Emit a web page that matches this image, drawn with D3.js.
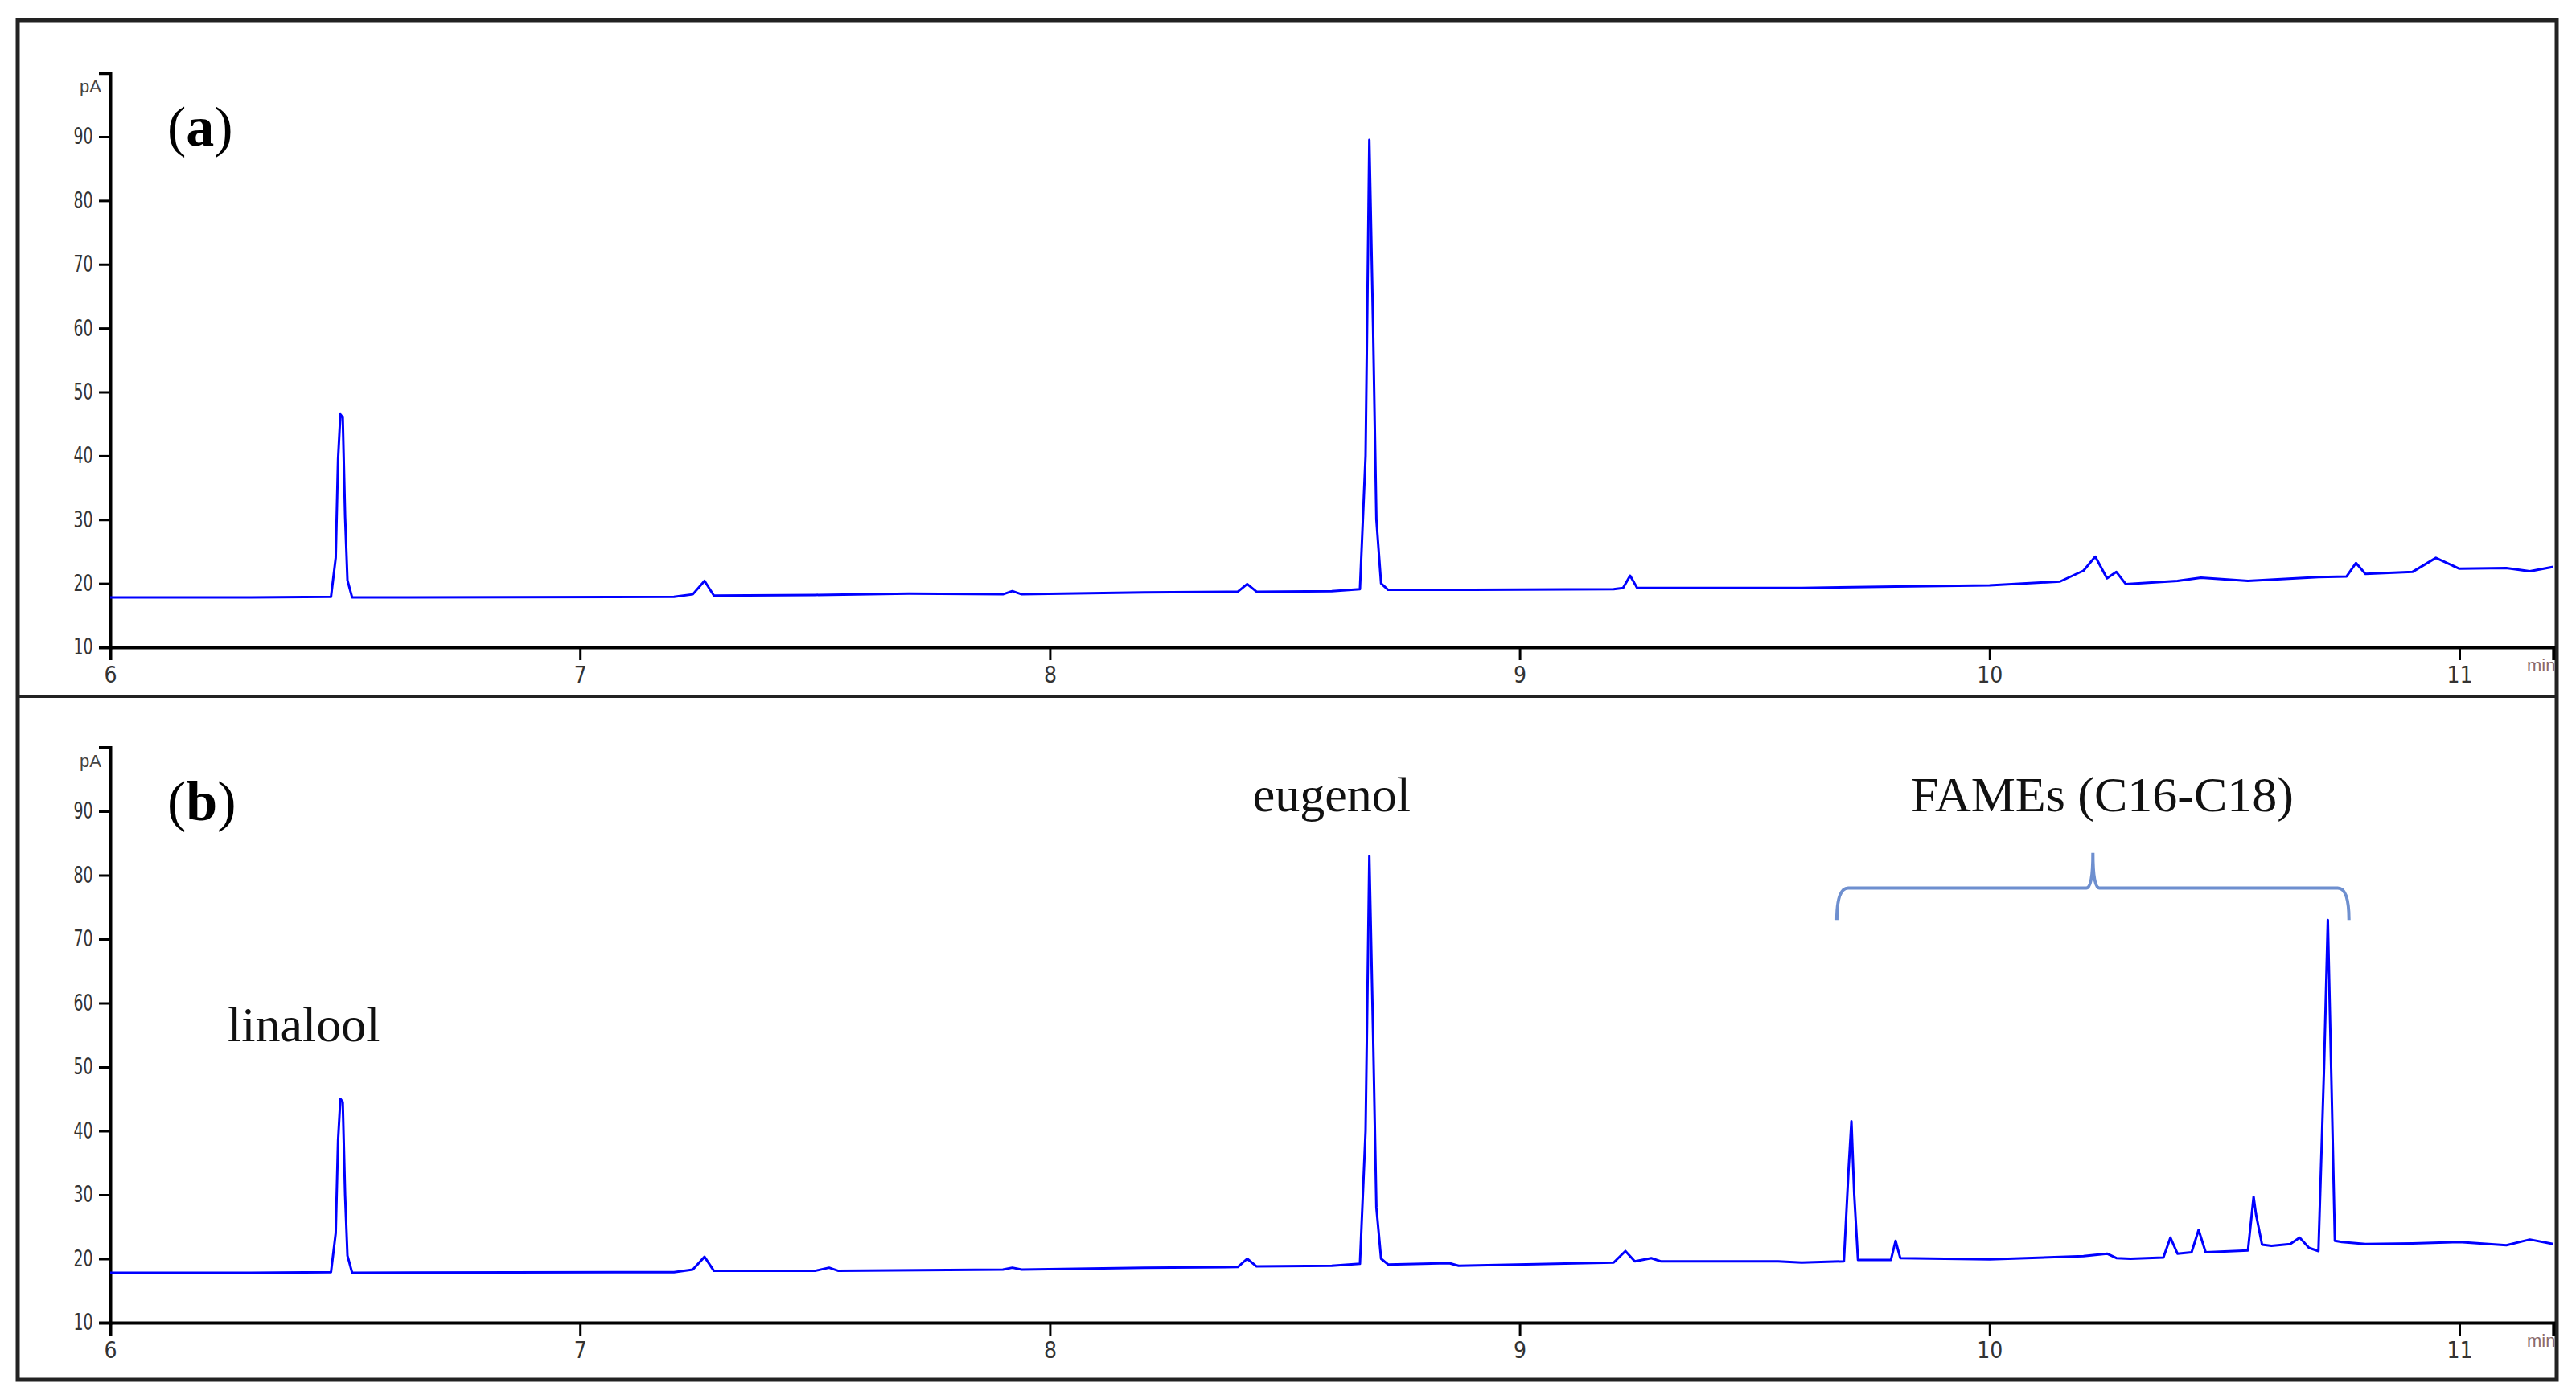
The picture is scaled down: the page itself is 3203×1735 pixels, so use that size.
<!DOCTYPE html>
<html lang="en">
<head>
<meta charset="UTF-8">
<title>GC chromatograms</title>
<script src="https://cdn.jsdelivr.net/npm/d3@7"></script>
<style>
  body { margin: 0; background: #fff; }
  svg { display: block; }
  .tick text { font-family: "Liberation Sans Narrow", "DejaVu Sans Condensed", sans-serif; fill: #333; }
</style>
</head>
<body>
<svg width="3203" height="1735"></svg>
<script>
// trace (a): retention time (min) and signal (pA)
const timeA = [6.0, 6.3, 6.47, 6.48, 6.485, 6.49, 6.495, 6.5, 6.505, 6.515, 7.2, 7.24, 7.265, 7.285, 7.5, 7.7, 7.9, 7.92, 7.94, 8.2, 8.4, 8.42, 8.44, 8.6, 8.66, 8.672, 8.68, 8.688, 8.695, 8.705, 8.72, 8.9, 9.2, 9.22, 9.235, 9.25, 9.6, 9.8, 10.0, 10.15, 10.2, 10.225, 10.25, 10.27, 10.29, 10.4, 10.45, 10.55, 10.7, 10.76, 10.78, 10.8, 10.9, 10.95, 11.0, 11.1, 11.15, 11.2];
const valA  = [17.8, 17.8, 17.9, 24, 39.5, 46.5, 46, 30.5, 20.5, 17.8, 17.9, 18.3, 20.4, 18.1, 18.2, 18.4, 18.3, 18.8, 18.3, 18.6, 18.7, 19.9, 18.7, 18.8, 19.1, 40, 89.5, 60, 30, 20, 19, 19, 19.1, 19.3, 21.2, 19.3, 19.3, 19.5, 19.7, 20.3, 22, 24.2, 20.8, 21.8, 19.9, 20.4, 20.9, 20.4, 21, 21.1, 23.2, 21.5, 21.8, 24, 22.3, 22.4, 21.9, 22.6];
// trace (b)
const timeB = [6.0, 6.3, 6.47, 6.48, 6.485, 6.49, 6.495, 6.5, 6.505, 6.515, 7.2, 7.24, 7.265, 7.285, 7.5, 7.53, 7.55, 7.9, 7.92, 7.94, 8.2, 8.4, 8.42, 8.44, 8.6, 8.66, 8.672, 8.68, 8.688, 8.695, 8.705, 8.72, 8.85, 8.87, 9.2, 9.225, 9.245, 9.28, 9.3, 9.55, 9.6, 9.69, 9.7, 9.706, 9.712, 9.72, 9.79, 9.8, 9.81, 10.0, 10.2, 10.25, 10.27, 10.3, 10.37, 10.385, 10.4, 10.43, 10.445, 10.46, 10.55, 10.562, 10.567, 10.58, 10.6, 10.64, 10.66, 10.68, 10.7, 10.712, 10.72, 10.727, 10.735, 10.75, 10.8, 10.9, 11.0, 11.1, 11.15, 11.2];
const valB  = [17.8, 17.8, 17.9, 24, 38.5, 45, 44.5, 30, 20.5, 17.8, 17.9, 18.3, 20.3, 18.1, 18.1, 18.6, 18.1, 18.3, 18.6, 18.3, 18.6, 18.7, 20, 18.8, 18.9, 19.2, 40, 83, 55, 28, 20, 19.1, 19.3, 18.9, 19.4, 21.2, 19.6, 20.1, 19.6, 19.6, 19.4, 19.6, 34, 41.5, 30, 19.8, 19.8, 22.8, 20.1, 19.9, 20.4, 20.8, 20.1, 20, 20.2, 23.3, 20.8, 21, 24.5, 21, 21.3, 29.7, 27, 22.2, 22, 22.3, 23.3, 21.7, 21.2, 50, 73, 50, 22.8, 22.6, 22.3, 22.4, 22.6, 22.1, 23, 22.3];

const xDomain = [6, 11.2];
const yDomain = [10, 100];
const xTicks = [6, 7, 8, 9, 10, 11];
const yTicks = [10, 20, 30, 40, 50, 60, 70, 80, 90];

const panels = [
  { tag: "a", time: timeA, val: valA, top: 25, bottom: 866 },
  { tag: "b", time: timeB, val: valB, top: 866, bottom: 1716 }
];
const labels = [
  { text: "linalool", t: 6.25, v: 54, anchor: "start" },
  { text: "eugenol", t: 8.6, v: 90, anchor: "middle" },
  { text: "FAMEs (C16-C18)", t: 10.24, v: 90, anchor: "middle" }
];
const brace = { from: 9.675, to: 10.765, mid: 10.22, level: 78, tip: 83.5, end: 73 };

const svg = d3.select("svg");
const left = 137, right = 3172;

// outer frame
svg.append("rect").attr("x", 22).attr("y", 25).attr("width", 3157).attr("height", 1691)
  .attr("fill", "none").attr("stroke", "#222").attr("stroke-width", 5);
svg.append("line").attr("x1", 22).attr("x2", 3179).attr("y1", 866).attr("y2", 866)
  .attr("stroke", "#222").attr("stroke-width", 4);

panels.forEach(p => {
  const y0 = p.tag === "a" ? 805 : 1645;
  const y90 = p.tag === "a" ? 170 : 1009;
  const y100 = y90 - (y0 - y90) / 8;
  const x = d3.scaleLinear().domain(xDomain).range([left, left + (3058 - left) * 5.2 / 5]);
  const y = d3.scaleLinear().domain(yDomain).range([y0, y100]);
  const g = svg.append("g");

  // minor ticks
  const yAx = g.append("g").attr("transform", `translate(${left},0)`);
  yAx.call(d3.axisLeft(y).tickValues(d3.range(10, 101, 1)).tickSize(6).tickFormat(""))
    .call(a => a.select(".domain").remove());
  yAx.call(d3.axisLeft(y).tickValues(d3.range(15, 100, 10)).tickSize(9).tickFormat(""));
  yAx.call(d3.axisLeft(y).tickValues(yTicks).tickSize(14).tickPadding(6).tickFormat(d3.format("d")));
  yAx.selectAll(".domain").attr("stroke-width", 4);
  yAx.selectAll("line").attr("stroke", "#000").attr("stroke-width", 3);
  yAx.selectAll("text").attr("font-size", 28).attr("transform", "scale(0.75,1)").attr("dx", -2)
    .attr("x", function () { return -20 / 0.75; });

  const xAx = g.append("g").attr("transform", `translate(0,${y0})`);
  xAx.call(d3.axisBottom(x).tickValues(d3.range(6, 11.21, 0.2)).tickSize(10).tickFormat(""));
  xAx.call(d3.axisBottom(x).tickValues(xTicks).tickSize(16).tickPadding(8).tickFormat(d3.format("d")));
  xAx.selectAll(".domain").attr("stroke-width", 4);
  xAx.selectAll("line").attr("stroke", "#000").attr("stroke-width", 3);
  xAx.selectAll("text").attr("font-size", 28);

  g.append("text").attr("x", left - 38).attr("y", y100 + 24).text("pA")
    .attr("font-family", "Liberation Sans Narrow, sans-serif").attr("font-size", 22).attr("fill", "#444");
  g.append("text").attr("x", 3142).attr("y", y0 + 30).text("min")
    .attr("font-family", "Liberation Sans Narrow, sans-serif").attr("font-size", 22).attr("fill", "#8a6a6a");

  const line = d3.line().x(d => x(d[0])).y(d => y(d[1]));
  g.append("path").datum(d3.zip(p.time, p.val)).attr("d", line)
    .attr("fill", "none").attr("stroke", "#0000ff").attr("stroke-width", 3).attr("stroke-linejoin", "round");

  const tag = g.append("text").attr("x", 208).attr("y", y100 + 90)
    .attr("font-family", "Liberation Serif, serif").attr("font-size", 70);
  tag.append("tspan").text("(");
  tag.append("tspan").attr("font-weight", "bold").text(p.tag);
  tag.append("tspan").text(")");

  if (p.tag === "b") {
    labels.forEach(l => {
      g.append("text").attr("x", x(l.t)).attr("y", y(l.v)).attr("text-anchor", l.anchor)
        .attr("font-family", "Liberation Serif, serif").attr("font-size", 62).attr("fill", "#111").text(l.text);
    });
    const bx = [x(brace.from), x(brace.mid), x(brace.to)];
    const by = y(brace.level), bt = y(brace.tip), be = y(brace.end);
    const path = `M${bx[0]},${be} Q${bx[0]},${by} ${bx[0] + 14},${by} L${bx[1] - 8},${by} Q${bx[1]},${by} ${bx[1]},${bt} Q${bx[1]},${by} ${bx[1] + 8},${by} L${bx[2] - 14},${by} Q${bx[2]},${by} ${bx[2]},${be}`;
    g.append("path").attr("d", path).attr("fill", "none").attr("stroke", "#6e8fcf").attr("stroke-width", 4);
  }
});
</script>
</body>
</html>
